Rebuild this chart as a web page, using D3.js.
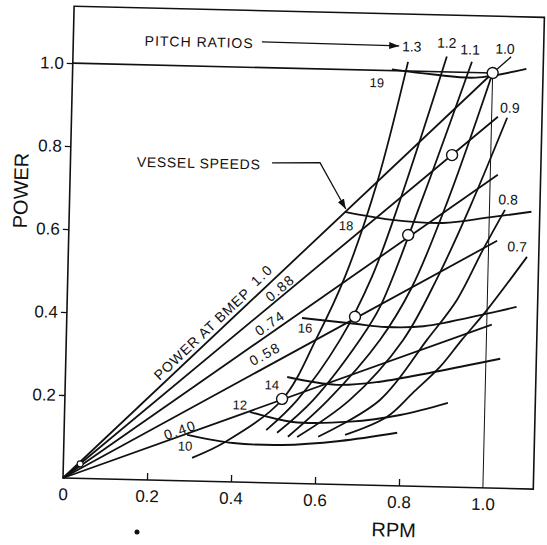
<!DOCTYPE html>
<html>
<head>
<meta charset="utf-8">
<script src="https://cdn.jsdelivr.net/npm/d3@7"></script>
<style>
body { margin: 0; background: #fff; }
svg { display: block; font-family: "Liberation Sans", Arial, sans-serif; }
</style>
</head>
<body>
<svg id="chart" width="547" height="545"></svg>
<script>
// axis ticks
var xTicks = [0, 0.2, 0.4, 0.6, 0.8, 1.0];
var yTicks = [0.2, 0.4, 0.6, 0.8, 1.0];

// power at bmep lines (straight from origin)
var bmepLabels = ['1.0', '0.88', '0.74', '0.58', '0.40'];
var bmepEndRpm = [1.0, 1.015, 1.018, 1.02, 1.012];
var bmepEndPower = [1.0, 0.895, 0.755, 0.596, 0.394];
var bmepLabelRpm = [0.462, 0.506, 0.484, 0.474, 0.276];
var bmepLabelPower = [0.50, 0.47, 0.385, 0.31, 0.122];

// pitch ratio curves, [rpm, power]
var pitchNames = ['1.3', '1.2', '1.1', '1.0', '0.9', '0.8', '0.7'];
var pitch13 = [[0.306,0.056],[0.384,0.096],[0.517,0.201],[0.597,0.354],[0.660,0.501],[0.731,0.729],[0.798,1.022]];
var pitch12 = [[0.481,0.127],[0.553,0.201],[0.652,0.349],[0.724,0.502],[0.787,0.689],[0.890,1.037]];
var pitch11 = [[0.507,0.121],[0.591,0.202],[0.699,0.350],[0.745,0.430],[0.839,0.691],[0.950,1.026]];
var pitch10 = [[0.533,0.112],[0.627,0.203],[0.747,0.351],[0.820,0.480],[0.901,0.692],[1.0,1.0]];
var pitch09 = [[0.555,0.112],[0.679,0.205],[0.802,0.352],[0.881,0.506],[0.954,0.677],[1.037,0.893]];
var pitch08 = [[0.605,0.114],[0.750,0.206],[0.859,0.354],[0.928,0.452],[0.987,0.574],[1.037,0.671]];
var pitch07 = [[0.669,0.120],[0.768,0.166],[0.828,0.225],[0.891,0.289],[0.942,0.356],[1.0,0.429],[1.092,0.559]];
var pitchLabelRpm = [0.806, 0.889, 0.945, 1.028, 1.043, 1.044, 1.068];
var pitchLabelPower = [1.059, 1.07, 1.055, 1.059, 0.917, 0.696, 0.583];

// vessel speed curves
var speedNames = ['10', '12', '14', '16', '18', '19'];
var speed10 = [[0.293,0.111],[0.403,0.094],[0.52,0.092],[0.657,0.105],[0.793,0.128]];
var speed12 = [[0.441,0.17],[0.544,0.148],[0.68,0.152],[0.799,0.171],[0.912,0.203]];
var speed14 = [[0.528,0.256],[0.647,0.240],[0.749,0.25],[0.88,0.277],[1.034,0.312]];
var speed16 = [[0.56,0.399],[0.686,0.388],[0.76,0.382],[0.85,0.386],[1.0,0.42],[1.07,0.438]];
var speed18 = [[0.656,0.657],[0.764,0.641],[0.89,0.636],[1.0,0.652],[1.10,0.668]];
var speed19 = [[0.76,1.003],[0.86,0.993],[0.96,0.988],[1.08,1.012]];
var speedLabelRpm = [0.289, 0.417, 0.492, 0.568, 0.66, 0.725];
var speedLabelPower = [0.084, 0.186, 0.236, 0.375, 0.624, 0.97];

// matching points (open circles)
var matchRpm = [1.0, 0.908, 0.808, 0.686, 0.517];
var matchPower = [1.0, 0.80, 0.605, 0.405, 0.203];

var svg = d3.select('#chart');
var ink = '#111';

var x = d3.scaleLinear().domain([0, 1.12]).range([63, 63 + 1.12 * 420]);
var y = d3.scaleLinear().domain([0, 1.137]).range([478, 478 - 1.137 * 415]);

// the printed chart sits slightly skewed on the page
var g = svg.append('g')
  .attr('transform', 'rotate(1.35,' + x(0) + ',' + y(0) + ')');

var line = d3.line()
  .x(function(d){ return x(d[0]); })
  .y(function(d){ return y(d[1]); })
  .curve(d3.curveCatmullRom.alpha(0.5));

var straight = d3.line()
  .x(function(d){ return x(d[0]); })
  .y(function(d){ return y(d[1]); });

// arrow head
svg.append('defs').append('marker')
  .attr('id', 'arrow')
  .attr('markerUnits', 'userSpaceOnUse')
  .attr('markerWidth', 11).attr('markerHeight', 8)
  .attr('refX', 10).attr('refY', 4)
  .attr('orient', 'auto')
  .append('path')
  .attr('d', 'M0,0.5 L10,4 L0,7.5 Z')
  .style('fill', ink);

// frame
g.append('rect')
  .attr('x', x(0)).attr('y', y(1.137))
  .attr('width', x(1.12) - x(0))
  .attr('height', y(0) - y(1.137))
  .style('fill', 'none').style('stroke', ink).style('stroke-width', 1.6);

// axes
var yAxis = g.append('g')
  .attr('transform', 'translate(' + x(0) + ',0)')
  .call(d3.axisLeft(y).tickValues(yTicks).tickSize(6).tickPadding(3).tickFormat(d3.format('.1f')));

var xAxis = g.append('g')
  .attr('transform', 'translate(0,' + y(0) + ')')
  .call(d3.axisBottom(x).tickValues(xTicks).tickSize(-7).tickPadding(10)
    .tickFormat(function(d){ return d === 0 ? '0' : d3.format('.1f')(d); }));

[xAxis, yAxis].forEach(function(ax){
  ax.select('.domain').remove();
  ax.selectAll('line').style('stroke', ink).style('stroke-width', 1.3);
  ax.selectAll('text')
    .style('font-family', '"Liberation Sans", Arial, sans-serif')
    .style('font-size', '17px')
    .style('fill', ink);
});
xAxis.selectAll('.tick line').filter(function(d){ return d === 0 || d === 1.0; }).remove();

// axis titles
g.append('text')
  .attr('transform', 'translate(21,' + y(0.69) + ') rotate(-90)')
  .attr('text-anchor', 'middle')
  .style('font-size', '20px').style('fill', ink)
  .text('POWER');

g.append('text')
  .attr('x', x(0.79)).attr('y', 529)
  .attr('text-anchor', 'middle')
  .style('font-size', '20px').style('fill', ink)
  .text('RPM');

// full power line and full rpm line
g.append('path')
  .attr('d', straight([[0, 1.0], [1.0, 1.0]]))
  .style('fill', 'none').style('stroke', ink).style('stroke-width', 1.6);
g.append('path')
  .attr('d', straight([[1.0, 0], [1.0, 1.0]]))
  .style('fill', 'none').style('stroke', ink).style('stroke-width', 1.0);

// bmep lines
bmepLabels.forEach(function(lab, i){
  g.append('path')
    .attr('d', straight([[0, 0], [bmepEndRpm[i], bmepEndPower[i]]]))
    .style('fill', 'none').style('stroke', ink).style('stroke-width', 1.8);
});

// pitch curves
[pitch13, pitch12, pitch11, pitch10, pitch09, pitch08, pitch07].forEach(function(pts){
  g.append('path')
    .attr('d', line(pts))
    .style('fill', 'none').style('stroke', ink).style('stroke-width', 1.8);
});

// vessel speed curves
[speed10, speed12, speed14, speed16, speed18, speed19].forEach(function(pts){
  g.append('path')
    .attr('d', line(pts))
    .style('fill', 'none').style('stroke', ink).style('stroke-width', 1.9);
});

// leader from pitch label 1.0 to top matching point
g.append('path')
  .attr('d', straight([[1.043, 1.04], [1.0, 1.0]]))
  .style('fill', 'none').style('stroke', ink).style('stroke-width', 1.4);

// matching points
g.selectAll('.match')
  .data(matchRpm)
  .enter()
  .append('circle')
  .classed('match', true)
  .attr('cx', function(d){ return x(d); })
  .attr('cy', function(d, i){ return y(matchPower[i]); })
  .attr('r', 5.5)
  .style('fill', '#fff').style('stroke', ink).style('stroke-width', 1.4);

// small idle marker near origin
g.append('circle')
  .attr('cx', x(0.04)).attr('cy', y(0.035)).attr('r', 3)
  .style('fill', '#fff').style('stroke', ink).style('stroke-width', 1.1);

// bmep labels along their lines
function lineAngle(i){
  return Math.atan2(y(bmepEndPower[i]) - y(0), x(bmepEndRpm[i]) - x(0)) * 180 / Math.PI;
}

g.append('text')
  .attr('transform', 'translate(' + x(0.323) + ',' + y(0.355) + ') rotate(' + lineAngle(0) + ')')
  .attr('text-anchor', 'middle').attr('dy', '0.35em')
  .style('font-size', '14px').style('letter-spacing', '0.8px').style('fill', ink)
  .text('POWER AT BMEP');

bmepLabels.forEach(function(lab, i){
  g.append('text')
    .attr('transform', 'translate(' + x(bmepLabelRpm[i]) + ',' + y(bmepLabelPower[i]) + ') rotate(' + lineAngle(i) + ')')
    .attr('text-anchor', 'middle').attr('dy', '0.35em')
    .style('font-size', '14px').style('letter-spacing', '1.5px').style('fill', ink)
    .text(lab);
});

// pitch labels
pitchNames.forEach(function(lab, i){
  g.append('text')
    .attr('x', x(pitchLabelRpm[i])).attr('y', y(pitchLabelPower[i]))
    .attr('text-anchor', 'middle').attr('dy', '0.35em')
    .style('font-size', '14px').style('fill', ink)
    .text(lab);
});

// speed labels
speedNames.forEach(function(lab, i){
  g.append('text')
    .attr('x', x(speedLabelRpm[i])).attr('y', y(speedLabelPower[i]))
    .attr('text-anchor', 'middle').attr('dy', '0.35em')
    .style('font-size', '13px').style('fill', ink)
    .text(lab);
});

// annotations with arrows
g.append('text')
  .attr('x', x(0.17)).attr('y', y(1.058))
  .attr('dy', '0.35em')
  .style('font-size', '14px').style('letter-spacing', '1px').style('fill', ink)
  .text('PITCH RATIOS');
g.append('path')
  .attr('d', straight([[0.449, 1.062], [0.776, 1.06]]))
  .attr('marker-end', 'url(#arrow)')
  .style('fill', 'none').style('stroke', ink).style('stroke-width', 1.3);

g.append('text')
  .attr('x', x(0.158)).attr('y', y(0.766))
  .attr('dy', '0.35em')
  .style('font-size', '14px').style('letter-spacing', '0.7px').style('fill', ink)
  .text('VESSEL SPEEDS');
g.append('path')
  .attr('d', straight([[0.48, 0.771], [0.594, 0.774], [0.658, 0.664]]))
  .attr('marker-end', 'url(#arrow)')
  .style('fill', 'none').style('stroke', ink).style('stroke-width', 1.3);

// stray ink dot from the scan
svg.append('circle')
  .attr('cx', 137).attr('cy', 532).attr('r', 2.5)
  .style('fill', ink);
</script>
</body>
</html>
